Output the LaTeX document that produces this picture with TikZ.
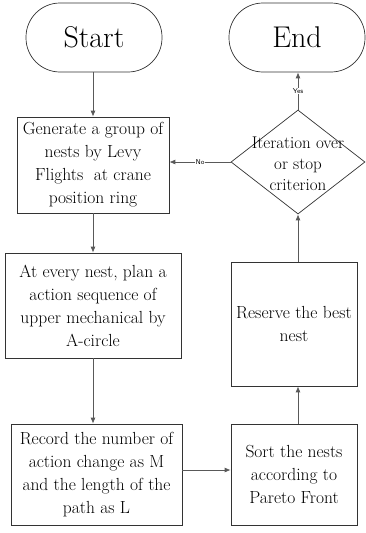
\documentclass[tikz,border=0pt]{standalone}
\usetikzlibrary{shapes.geometric,arrows.meta}
\begin{document}
\begin{tikzpicture}[x=1pt,y=-1pt,
  term/.style={draw=black!80, line width=0.7pt, rounded corners=34pt, minimum width=136pt, minimum height=69pt, font=\rmfamily\fontsize{30}{34}\selectfont, inner sep=0pt},
  proc/.style={draw=black!80, line width=0.7pt, align=center, font=\rmfamily\fontsize{17.5}{23}\selectfont, inner sep=2pt},
  dec/.style={draw=black!80, line width=0.7pt, diamond, aspect=1.3, inner sep=0pt, minimum width=134pt, minimum height=104pt},
  conn/.style={draw=black!65, line width=0.8pt, -{Latex[length=6pt,width=5pt]}},
  lbl/.style={font=\sffamily\fontsize{7}{8}\selectfont, fill=white, inner sep=1pt}]
\useasboundingbox (0,0) rectangle (366,533);
\node[term] (start) at (94,37.5) {Start};
\node[term] (end) at (297,37.5) {End};
\node[proc, minimum width=152pt, minimum height=96pt] (gen) at (93,165) {Generate a group of\\nests by Levy\\Flights\ \ at crane\\position ring};
\node[proc, minimum width=176pt, minimum height=105pt] (plan) at (93,305.5) {At every nest, plan a\\action sequence of\\upper mechanical by\\A-circle};
\node[proc, minimum width=171pt, minimum height=101pt] (rec) at (96.5,474.5) {Record the number of\\action change as M\\and the length of the\\path as L};
\node[proc, minimum width=126pt, minimum height=101pt] (sort) at (294,474.5) {Sort the nests\\according to\\Pareto Front};
\node[proc, minimum width=126pt, minimum height=124pt] (res) at (294,324) {Reserve the best\\nest};
\node[dec] (it) at (298,162) {};
\node[align=center, font=\rmfamily\fontsize{17}{21}\selectfont] (ittxt) at (298,164) {Iteration over\\or stop\\criterion};
\draw[conn] (gen.north |- start.south) -- (gen.north);
\draw[conn] (gen.south) -- (plan.north);
\draw[conn] (plan.south) -- (plan.south |- rec.north);
\draw[conn] (rec.east |- 0,470) -- (sort.west |- 0,470);
\draw[conn] (sort.north -| it.south) -- (res.south -| it.south);
\draw[conn] (res.north -| it.south) -- (it.south);
\draw[conn] (it.north) -- node[lbl]{Yes} (end.south -| it.north);
\draw[conn] (it.west) -- node[lbl]{No} (gen.east |- it.west);
\end{tikzpicture}
\end{document}
